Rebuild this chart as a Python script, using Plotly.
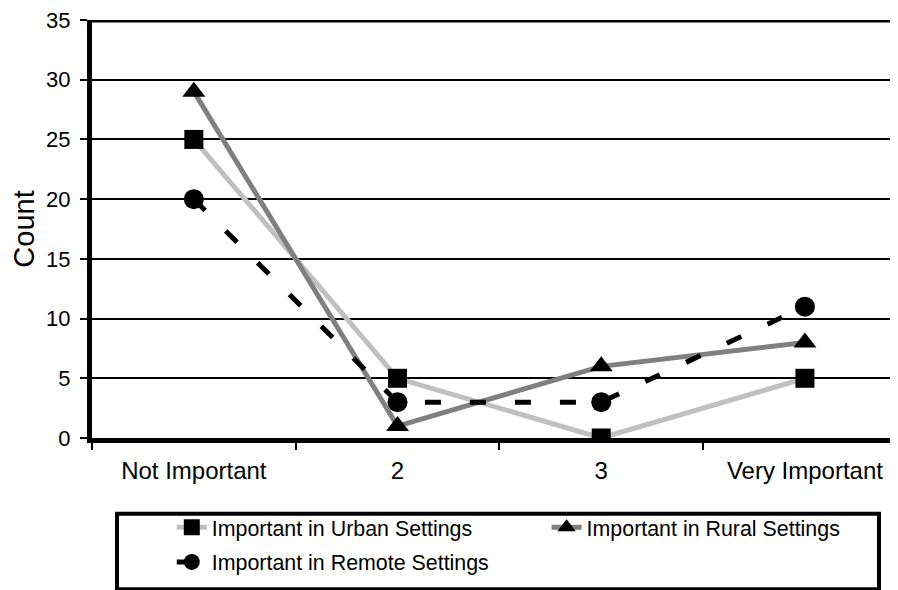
import plotly.graph_objects as go

categories = ["Not Important", "2", "3", "Very Important"]
urban = [25, 5, 0, 5]
rural = [29, 1, 6, 8]
remote = [20, 3, 3, 11]
y_ticks = [0, 5, 10, 15, 20, 25, 30, 35]

FONT = "Liberation Sans, Arial, sans-serif"

fig = go.Figure()
fig.add_trace(go.Scatter(
    x=categories, y=urban, name="Important in Urban Settings",
    mode="lines+markers", legend="legend",
    line=dict(color="#c0c0c0", width=5),
    marker=dict(symbol="square", size=19, color="black"),
))
fig.add_trace(go.Scatter(
    x=categories, y=rural, name="Important in Rural Settings",
    mode="lines+markers", legend="legend2",
    line=dict(color="#808080", width=5),
    marker=dict(symbol="triangle-up", size=20, color="black"),
))
fig.add_trace(go.Scatter(
    x=categories, y=remote, name="Important in Remote Settings",
    mode="lines+markers", legend="legend3",
    line=dict(color="black", width=5, dash="16px,29px"),
    marker=dict(symbol="circle", size=20, color="black"),
))

# top frame line at 35
fig.add_shape(type="line", xref="paper", yref="y", x0=0, x1=1, y0=35, y1=35,
              line=dict(color="black", width=5))
# legend frame
fig.add_shape(type="rect", xref="paper", yref="paper",
              x0=(117 - 92) / 806, x1=(879 - 92) / 806,
              y0=(438 - 590) / 420, y1=(438 - 514) / 420,
              line=dict(color="black", width=4), fillcolor="rgba(0,0,0,0)")

legend_common = dict(
    orientation="h", xanchor="left", yanchor="top",
    borderwidth=0, bgcolor="rgba(0,0,0,0)",
    font=dict(size=21.4, family=FONT, color="black"),
)

fig.update_layout(
    width=890, height=582,
    margin=dict(l=84, r=0, t=10, b=152),
    paper_bgcolor="white", plot_bgcolor="white",
    font=dict(family=FONT, size=22, color="black"),
    showlegend=True,
    legend=dict(x=0.099, y=-0.1645, **legend_common),
    legend2=dict(x=0.564, y=-0.1645, **legend_common),
    legend3=dict(x=0.099, y=-0.2476, **legend_common),
    xaxis=dict(
        type="category", categoryorder="array", categoryarray=categories,
        range=[-0.5, 3.457], showgrid=False, zeroline=False,
        showline=True, linecolor="black", linewidth=5,
        ticks="outside", tickson="boundaries", ticklen=7, tickwidth=2, tickcolor="black",
        tickfont=dict(size=24, family=FONT),
        ticklabelstandoff=7,
    ),
    yaxis=dict(
        range=[0, 35], tickvals=y_ticks, showgrid=True, gridcolor="black", gridwidth=2,
        zeroline=False, showline=True, linecolor="black", linewidth=5,
        ticks="outside", ticklen=7, tickwidth=2, tickcolor="black",
        tickfont=dict(size=22, family=FONT),
        ticklabelstandoff=5, ticklabeloverflow="allow",
        title=dict(text="Count", font=dict(size=29, family=FONT), standoff=13),
    ),
)

fig.write_html("out.html")
